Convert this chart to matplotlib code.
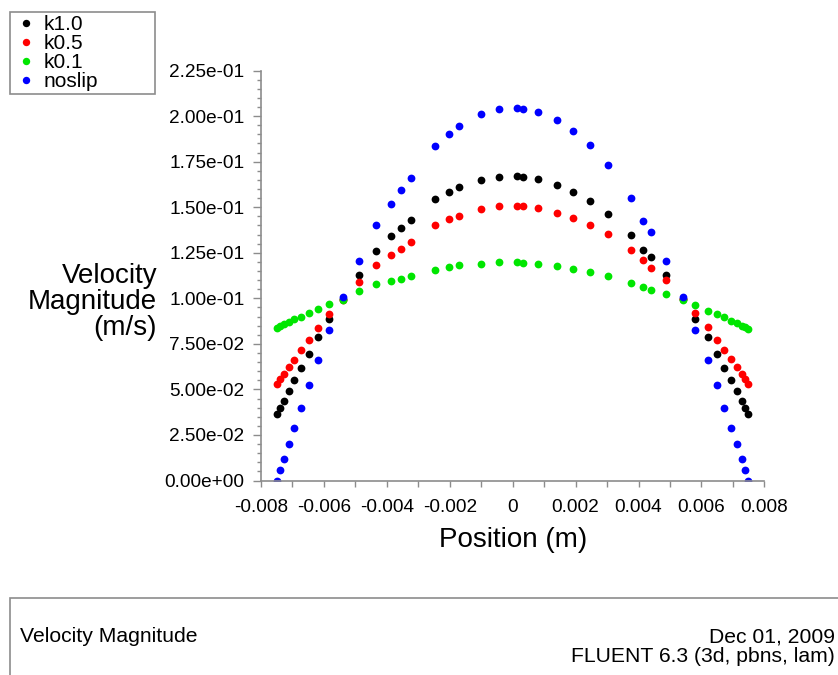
import matplotlib
matplotlib.use("Agg")
import matplotlib.pyplot as plt
from matplotlib.patches import Rectangle
from matplotlib.ticker import MultipleLocator, FuncFormatter


# sample positions across the channel (m)
position = [-0.00749, -0.00739, -0.00727, -0.00712, -0.00696, -0.00674, -0.00649,
            -0.00619, -0.00584, -0.00541, -0.00490, -0.00434, -0.00387, -0.00355,
            -0.00323, -0.00246, -0.00201, -0.00170, -0.00101, -0.00042, 0.00014,
            0.00032, 0.00082, 0.00140, 0.00191, 0.00245, 0.00303, 0.00377,
            0.00413, 0.00440, 0.00488, 0.00541, 0.00581, 0.00620, 0.00649,
            0.00673, 0.00694, 0.00712, 0.00728, 0.00739, 0.00749]

# velocity magnitude (m/s) for each case
k10 = [0.0365, 0.0399, 0.0438, 0.0489, 0.0549, 0.0617, 0.0697, 0.0785, 0.0889, 0.0995,
       0.1130, 0.1257, 0.1340, 0.1386, 0.1432, 0.1543, 0.1583, 0.1611, 0.1651, 0.1666,
       0.1671, 0.1666, 0.1653, 0.1622, 0.1583, 0.1536, 0.1461, 0.1350, 0.1264, 0.1224,
       0.1130, 0.0998, 0.0885, 0.0785, 0.0694, 0.0617, 0.0551, 0.0489, 0.0438, 0.0399,
       0.0365]
k05 = [0.0529, 0.0558, 0.0586, 0.0621, 0.0664, 0.0715, 0.0772, 0.0838, 0.0913, 0.0990,
       0.1088, 0.1181, 0.1240, 0.1273, 0.1309, 0.1401, 0.1434, 0.1452, 0.1489, 0.1505,
       0.1509, 0.1505, 0.1498, 0.1470, 0.1443, 0.1405, 0.1351, 0.1264, 0.1209, 0.1169,
       0.1099, 0.0995, 0.0920, 0.0842, 0.0772, 0.0715, 0.0666, 0.0621, 0.0584, 0.0556,
       0.0529]
k01 = [0.0838, 0.0847, 0.0858, 0.0871, 0.0884, 0.0900, 0.0922, 0.0944, 0.0971, 0.0993,
       0.1041, 0.1076, 0.1094, 0.1106, 0.1123, 0.1158, 0.1172, 0.1181, 0.1191, 0.1198,
       0.1198, 0.1194, 0.1189, 0.1178, 0.1163, 0.1145, 0.1121, 0.1084, 0.1063, 0.1048,
       0.1024, 0.0990, 0.0966, 0.0933, 0.0913, 0.0895, 0.0876, 0.0862, 0.0847, 0.0840,
       0.0831]
noslip = [0.0, 0.0058, 0.0120, 0.0202, 0.0290, 0.0399, 0.0522, 0.0662, 0.0825, 0.1006,
          0.1203, 0.1401, 0.1516, 0.1593, 0.1662, 0.1834, 0.1904, 0.1947, 0.2009, 0.2041,
          0.2046, 0.2041, 0.2022, 0.1976, 0.1918, 0.1839, 0.1731, 0.1553, 0.1425, 0.1365,
          0.1203, 0.1008, 0.0825, 0.0664, 0.0522, 0.0399, 0.0290, 0.0202, 0.0120, 0.0058,
          0.0]

labels = ["k1.0", "k0.5", "k0.1", "noslip"]
colors = ["#000000", "#ff0000", "#00e600", "#0000ff"]


plt.rcParams['font.family'] = ['Liberation Sans', 'DejaVu Sans']
plt.rcParams['axes.unicode_minus'] = False

fig = plt.figure(figsize=(8.38, 6.75), dpi=100)
ax = fig.add_axes([0.3115, 0.2881, 0.6006, 0.6074])

# one dot series per case
for vals, label, color in zip([k10, k05, k01, noslip], labels, colors):
    ax.plot(position, vals, 'o', ms=5.6, color=color, mec='none', label=label)

ax.set_xlim(-0.008, 0.008)
ax.set_ylim(0, 0.225)

# only left and bottom axes, in gray
for side in ['top', 'right']:
    ax.spines[side].set_visible(False)
for side in ['left', 'bottom']:
    ax.spines[side].set_color('#8c8c8c')
    ax.spines[side].set_linewidth(1.2)

ax.xaxis.set_major_locator(MultipleLocator(0.002))
ax.xaxis.set_minor_locator(MultipleLocator(0.001))
ax.yaxis.set_major_locator(MultipleLocator(0.025))
ax.yaxis.set_minor_locator(MultipleLocator(0.005))
ax.xaxis.set_major_formatter(FuncFormatter(lambda v, _: '0' if abs(v) < 1e-9 else f'{v:.3f}'))
ax.yaxis.set_major_formatter(FuncFormatter(lambda v, _: f'{v:.2e}'))

ax.tick_params(axis='x', which='both', length=4, width=1, color='#8c8c8c',
               labelsize=13.7, pad=9)
ax.tick_params(axis='y', which='major', length=6, width=1, color='#8c8c8c',
               labelsize=13.7, pad=6)
ax.tick_params(axis='y', which='minor', length=3, width=1, color='#8c8c8c')

ax.set_xlabel('Position (m)', fontsize=20, labelpad=8)
fig.text(157 / 838, 1 - 302 / 675, 'Velocity\nMagnitude\n(m/s)', fontsize=20,
         ha='right', va='center', multialignment='right', linespacing=1.0)

# legend box in the upper left corner
leg = fig.legend(loc='upper left', bbox_to_anchor=(10 / 838, 1 - 90 / 675, 145 / 838, 78 / 675),
                 mode='expand', borderaxespad=0, fontsize=15, frameon=True, fancybox=False,
                 edgecolor='#8c8c8c', framealpha=1, handlelength=1.2, handletextpad=0.25,
                 labelspacing=0.0, borderpad=0.15, markerscale=0.95)
leg.get_frame().set_linewidth(1.2)

# footer box with title and stamp
fig.add_artist(Rectangle((10 / 838, -0.05), 1.05, 0.05 + 1 - 598 / 675,
                         transform=fig.transFigure, fill=False,
                         edgecolor='#8c8c8c', linewidth=1.2, clip_on=False))
fig.text(20 / 838, 1 - 637 / 675, 'Velocity Magnitude', fontsize=15.2, va='center')
fig.text(835 / 838, 1 - 637 / 675, 'Dec 01, 2009', fontsize=15.2, ha='right', va='center')
fig.text(835 / 838, 1 - 657 / 675, 'FLUENT 6.3 (3d, pbns, lam)', fontsize=15.2,
         ha='right', va='center')

fig.savefig('out.png', dpi=100)
